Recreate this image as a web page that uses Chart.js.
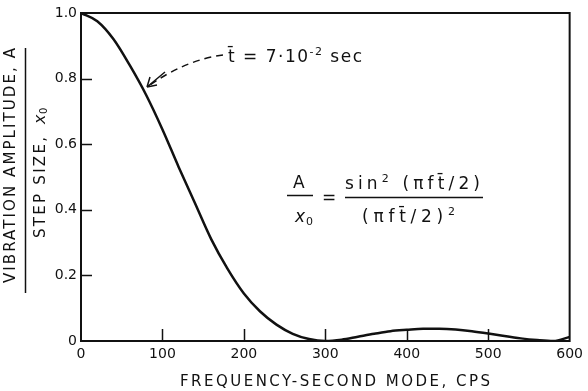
<!DOCTYPE html>
<html>
<head>
<meta charset="utf-8">
<script src="https://cdn.jsdelivr.net/npm/chart.js@4.4.1/dist/chart.umd.min.js"></script>
<style>
  html, body { margin: 0; padding: 0; background: #fff; }
  #wrap { width: 588px; height: 391px; }
</style>
</head>
<body>
<div id="wrap"><canvas id="grafico"></canvas></div>
<script>
// valores (frecuencia en cps, amplitud relativa A/x0)
const frecuencias = [0, 20, 40, 60, 80, 100, 120, 140, 160, 180, 200, 220, 240, 260, 280, 300,
                     320, 340, 360, 380, 400, 420, 440, 460, 480, 500, 520, 540, 560, 580, 600];
const amplitudes = [1.0, 0.975, 0.92, 0.84, 0.75, 0.645, 0.53, 0.42, 0.31, 0.22, 0.145, 0.09, 0.05, 0.022, 0.006, 0.0,
                    0.004, 0.013, 0.022, 0.03, 0.034, 0.037, 0.037, 0.035, 0.03, 0.023, 0.015, 0.008, 0.003, 0.0, 0.012];
const ticksX = [0, 100, 200, 300, 400, 500, 600];
const ticksY = [0, 0.2, 0.4, 0.6, 0.8, 1.0];
const etiquetasY = ['0', '0.2', '0.4', '0.6', '0.8', '1.0'];

const FUENTE = '"DejaVu Sans", sans-serif';
const NEGRO = '#111';

// escribe un texto estirado al ancho pedido (espaciado de letras)
function textoAncho(ctx, texto, x, y, ancho, fuente) {
    ctx.font = fuente;
    ctx.letterSpacing = '0px';
    const w = ctx.measureText(texto).width;
    const n = Math.max(1, [...texto].length - 1);
    ctx.letterSpacing = ((ancho - w) / n) + 'px';
    ctx.fillText(texto, x, y);
    ctx.letterSpacing = '0px';
}

// separa en letras dejando la barra (macron) pegada a su letra
const letras = s => s.match(/.\u0304?/gu) || [];

// escribe varios trozos (con superindices) repartidos en un ancho
function trozosAncho(ctx, trozos, x, y, ancho) {
    let natural = 0, n = 0;
    trozos.forEach(t => {
        ctx.font = t.f;
        letras(t.t).forEach(c => { natural += ctx.measureText(c).width; n++; });
    });
    const esp = (ancho - natural) / Math.max(1, n - 1);
    let cx = x;
    trozos.forEach(t => {
        ctx.font = t.f;
        letras(t.t).forEach(c => {
            ctx.fillText(c, cx, y + (t.dy || 0));
            cx += ctx.measureText(c).width + esp;
        });
    });
}

const decoraciones = {
    id: 'decoraciones',
    afterDraw(chart) {
        const ctx = chart.ctx;
        const a = chart.chartArea;
        const sx = chart.scales.x, sy = chart.scales.y;
        ctx.save();
        ctx.strokeStyle = NEGRO;
        ctx.fillStyle = NEGRO;

        // marco
        ctx.lineWidth = 2;
        ctx.strokeRect(a.left, a.top, a.right - a.left, a.bottom - a.top);

        // marcas hacia adentro
        ctx.lineWidth = 1.5;
        ctx.beginPath();
        ticksY.slice(1, -1).forEach(v => {
            const py = Math.round(sy.getPixelForValue(v)) + 0.5;
            ctx.moveTo(a.left, py); ctx.lineTo(a.left + 11, py);
        });
        ticksX.slice(1, -1).forEach(v => {
            const px = Math.round(sx.getPixelForValue(v)) + 0.5;
            ctx.moveTo(px, a.bottom); ctx.lineTo(px, a.bottom - 12);
        });
        ctx.stroke();

        // titulo eje x
        ctx.textAlign = 'left';
        ctx.textBaseline = 'alphabetic';
        textoAncho(ctx, 'FREQUENCY-SECOND MODE, CPS', 180, 386, 310, '15px ' + FUENTE);

        // titulo eje y (fraccion vertical)
        ctx.save();
        ctx.translate(15, 283);
        ctx.rotate(-Math.PI / 2);
        textoAncho(ctx, 'VIBRATION AMPLITUDE, A', 0, 0, 235, '15px ' + FUENTE);
        ctx.restore();

        ctx.lineWidth = 1.5;
        ctx.beginPath();
        ctx.moveTo(25.5, 48); ctx.lineTo(25.5, 293);
        ctx.stroke();

        ctx.save();
        ctx.translate(45, 238);
        ctx.rotate(-Math.PI / 2);
        textoAncho(ctx, 'STEP SIZE, ', 0, 0, 108, '15px ' + FUENTE);
        ctx.font = 'italic 16px ' + FUENTE;
        ctx.fillText('x', 114, 0);
        ctx.font = '10px ' + FUENTE;
        ctx.fillText('0', 124, 2);
        ctx.restore();

        // formula
        const f17 = '17px ' + FUENTE, f11 = '11px ' + FUENTE;
        ctx.textAlign = 'left';
        ctx.font = f17;
        ctx.fillText('A', 293, 188);
        ctx.font = 'italic 17px ' + FUENTE;
        ctx.fillText('x', 295, 222);
        ctx.font = f11;
        ctx.fillText('0', 306, 225);
        ctx.font = f17;
        ctx.fillText('=', 322, 203);
        trozosAncho(ctx, [
            { t: 'sin', f: f17 }, { t: '2', f: f11, dy: -7 },
            { t: ' (\u03c0ft\u0304/2)', f: f17 }
        ], 345, 189, 135);
        trozosAncho(ctx, [
            { t: '(\u03c0ft\u0304/2)', f: f17 }, { t: '2', f: f11, dy: -7 }
        ], 362, 222, 93);
        ctx.lineWidth = 1.5;
        ctx.beginPath();
        ctx.moveTo(287, 195.5); ctx.lineTo(313, 195.5);
        ctx.moveTo(345, 197.5); ctx.lineTo(483, 197.5);
        ctx.stroke();

        // anotacion con flecha
        trozosAncho(ctx, [
            { t: 't\u0304 = 7\u00b710', f: f17 }, { t: '-2', f: f11, dy: -7 },
            { t: ' sec', f: f17 }
        ], 228, 62, 134);
        ctx.lineWidth = 1.5;
        ctx.setLineDash([7, 5]);
        ctx.beginPath();
        ctx.moveTo(223, 55);
        ctx.quadraticCurveTo(185, 60, 147, 87);
        ctx.stroke();
        ctx.setLineDash([]);
        ctx.beginPath();
        ctx.moveTo(147, 87); ctx.lineTo(165, 72);
        ctx.moveTo(147, 87); ctx.lineTo(150, 77);
        ctx.moveTo(147, 87); ctx.lineTo(157, 85);
        ctx.stroke();

        ctx.restore();
    }
};

const ctxGrafico = document.getElementById('grafico').getContext('2d');
new Chart(ctxGrafico, {
    type: 'line',
    data: {
        datasets: [{
            data: frecuencias.map((f, i) => ({ x: f, y: amplitudes[i] })),
            borderColor: NEGRO,
            borderWidth: 2.5,
            pointRadius: 0,
            fill: false,
            cubicInterpolationMode: 'monotone'
        }]
    },
    options: {
        responsive: true,
        maintainAspectRatio: false,
        animation: false,
        layout: { padding: { top: 13, right: 18, bottom: 0, left: 0 } },
        plugins: { legend: { display: false }, tooltip: { enabled: false } },
        scales: {
            x: {
                type: 'linear',
                min: 0, max: 600,
                afterFit: s => { s.height = 50; },
                afterBuildTicks: s => { s.ticks = ticksX.map(v => ({ value: v })); },
                grid: { display: false, drawTicks: false },
                border: { display: false },
                ticks: {
                    color: NEGRO,
                    padding: 5,
                    maxRotation: 0,
                    font: { family: FUENTE, size: 14 }
                }
            },
            y: {
                min: 0, max: 1,
                afterFit: s => { s.width = 81; },
                afterBuildTicks: s => { s.ticks = ticksY.map(v => ({ value: v })); },
                grid: { display: false, drawTicks: false },
                border: { display: false },
                ticks: {
                    color: NEGRO,
                    padding: 4,
                    font: { family: FUENTE, size: 14 },
                    callback: (v) => etiquetasY[ticksY.findIndex(t => Math.abs(t - v) < 1e-6)]
                }
            }
        }
    },
    plugins: [decoraciones]
});
</script>
</body>
</html>
